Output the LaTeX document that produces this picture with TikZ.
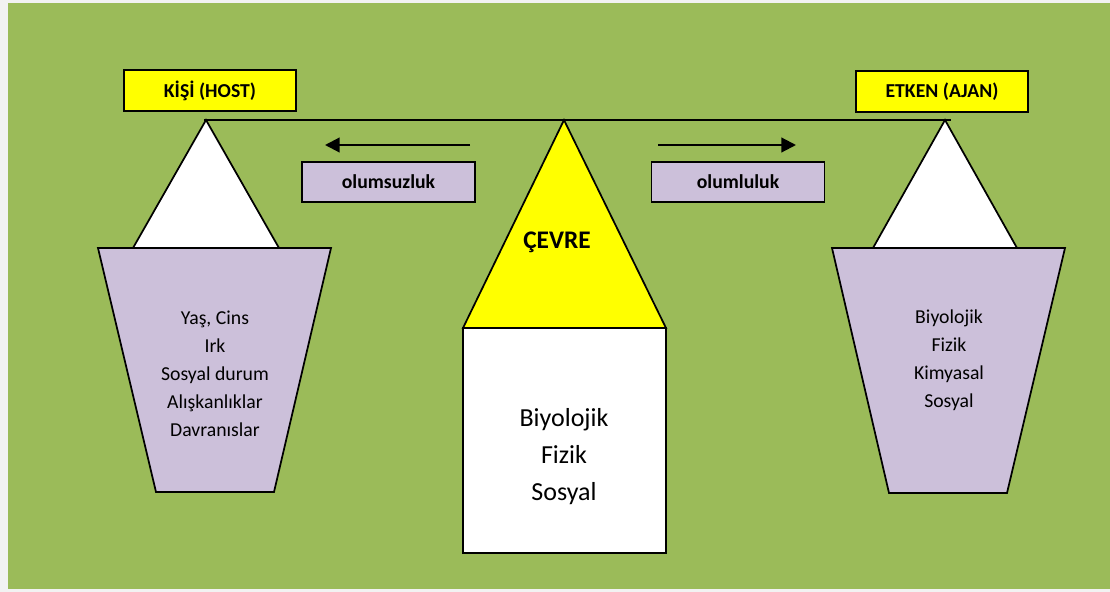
\documentclass[tikz,border=0pt]{standalone}
\usepackage{fontspec}
\setmainfont{Carlito}
\usetikzlibrary{arrows.meta}
\definecolor{bggray}{HTML}{F2F2F2}
\definecolor{leaf}{HTML}{9BBB59}
\definecolor{lav}{HTML}{CCC0DA}
\definecolor{yel}{HTML}{FFFF00}
\begin{document}
\begin{tikzpicture}[x=0.75pt,y=-0.75pt,
  outl/.style={draw=black,line width=1.3pt,line join=miter},
  labelbox/.style={outl,fill=yel,minimum width=129pt,minimum height=30.75pt,inner sep=0pt,font=\bfseries\fontsize{14.8}{17}\selectfont},
  dirbox/.style={outl,fill=lav,minimum width=129.75pt,minimum height=30pt,inner sep=0pt,font=\bfseries\fontsize{14.8}{17}\selectfont},
  listtext/.style={align=center,inner sep=0pt,font=\fontsize{14.8}{21}\selectfont,text=black},
  bigtext/.style={align=center,inner sep=0pt,font=\fontsize{19.5}{27.75}\selectfont,text=black},
  dirarrow/.style={line width=1.6pt,-{Triangle[length=11pt,width=11pt]}}]
\useasboundingbox (0,0) rectangle (1110,592);
\fill[bggray] (0,0) rectangle (1110,592);
\fill[leaf] (8,3) rectangle (1110,589);

% coordinates
\coordinate (beamL) at (204,120);
\coordinate (beamR) at (951,120);
\coordinate (apexL) at (206,120);
\coordinate (apexC) at (564,120);
\coordinate (apexR) at (945,120);

% beam
\draw[line width=1.3pt] (beamL) -- (beamR);

% left: triangle + trapezoid
\draw[outl,fill=white] (apexL) -- (133,248) -- (279,248) -- cycle;
\draw[outl,fill=lav] (98,248) -- (331,248) -- (274,492) -- (156,492) -- cycle;
\node[listtext] (hosttext) at (215,374) {Yaş, Cins\\Irk\\Sosyal durum\\Alışkanlıklar\\Davranıslar};

% right: triangle + trapezoid
\draw[outl,fill=white] (apexR) -- (873,248) -- (1017,248) -- cycle;
\draw[outl,fill=lav] (832,248) -- (1065,248) -- (1007,493) -- (889,493) -- cycle;
\node[listtext] (agenttext) at (949,360.5) {Biyolojik\\Fizik\\Kimyasal\\Sosyal};

% center: triangle + box
\draw[outl,fill=yel] (apexC) -- (463,328) -- (666,328) -- cycle;
\draw[outl,fill=white] (463,328) rectangle (666,553);
\node[inner sep=0pt,font=\bfseries\fontsize{19}{22}\selectfont] (cevre) at (557,242) {ÇEVRE};
\node[bigtext] (envtext) at (564,457) {Biyolojik\\Fizik\\Sosyal};

% label boxes
\node[labelbox] (host) at (210,90.5) {KİŞİ (HOST)};
\node[labelbox] (agent) at (942,91.5) {ETKEN (AJAN)};

% direction boxes and arrows
\node[dirbox] (neg) at (388.5,182) {olumsuzluk};
\node[dirbox] (pos) at (738,182) {olumluluk};
\coordinate (negS) at (470,145);
\coordinate (negE) at (325,145);
\coordinate (posS) at (658,145);
\coordinate (posE) at (796,145);
\draw[dirarrow] (negS) -- (negE);
\draw[dirarrow] (posS) -- (posE);
\end{tikzpicture}
\end{document}
